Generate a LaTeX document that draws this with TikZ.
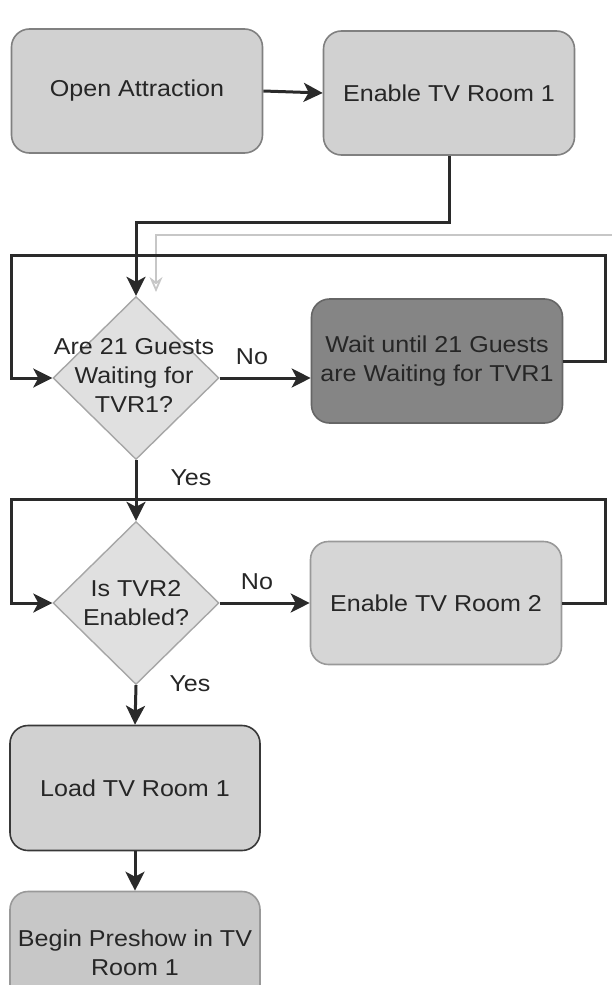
\documentclass[tikz,border=0pt]{standalone}
\usepackage{fontspec}
\setmainfont{Liberation Sans}[FakeStretch=1.09]
\usetikzlibrary{shapes.geometric,arrows.meta,calc}
\definecolor{linec}{HTML}{2A2A2A}
\begin{document}
\begin{tikzpicture}[x=1pt,y=-1pt,
  font=\fontsize{23}{29}\selectfont,
  every node/.style={text=black!85},
  box/.style={rectangle, rounded corners=18pt, draw=black!50, line width=1.6pt,
    fill=black!18, minimum width=251pt, minimum height=124pt, inner sep=0pt, align=center},
  dia/.style={diamond, draw=black!35, line width=1.4pt, fill=black!12,
    minimum width=166pt, minimum height=163pt, inner sep=0pt},
  arr/.style={draw=linec, line width=3pt, -{Stealth[length=19pt,width=19pt,inset=5pt]}},
  lab/.style={inner sep=0pt}
]
\useasboundingbox (0,0) rectangle (612,985);
\clip (0,0) rectangle (612,985);

% nodes
\node[box] (open) at (137,91) {Open Attraction};
\node[box] (en1) at (449,93) {Enable TV Room 1};
\node[dia] (d1) at (136,378) {};
\node[align=center, inner sep=0pt] (d1t) at (134,375) {Are 21 Guests\\Waiting for\\TVR1?};
\node[box, fill=black!48, draw=black!60, minimum height=124pt] (wait) at (437,361) {Wait until 21 Guests\\are Waiting for TVR1};
\node[dia] (d2) at (136,603) {};
\node[align=center, inner sep=0pt] (d2t) at (136,603) {Is TVR2\\Enabled?};
\node[box, fill=black!16, draw=black!40, minimum height=123pt] (en2) at (436,603) {Enable TV Room 2};
\node[box, fill=black!18, draw=black!78, minimum width=250pt, minimum height=125pt] (load) at (135,788) {Load TV Room 1};
\node[box, fill=black!22, draw=black!40, minimum width=250pt, minimum height=123pt] (begin) at (135,953) {Begin Preshow in TV\\Room 1};

% labels
\node[lab] (no1) at (252,357) {No};
\node[lab] (yes1) at (191,478) {Yes};
\node[lab] (no2) at (257,582) {No};
\node[lab] (yes2) at (190,684) {Yes};

% loop corner coordinates
\coordinate (r1) at (605,255);
\coordinate (l1) at (11,255);
\coordinate (r2) at (605,499);
\coordinate (l2) at (11,499);

% faint gray line
\coordinate (gs) at (615,235);
\coordinate (ge) at (156,292);
\draw[draw=black!22, line width=1.8pt, -{Stealth[open,length=15pt,width=13pt]}] (gs) -| (ge);

% connectors
\draw[arr] (open.east) -- (en1.west);
\draw[arr] (en1.south) -- ++(0,67) -| (d1.north);
\draw[arr] (wait.east) -| (r1) -- (l1) |- (d1.west);
\draw[arr] (d1.east) -- (d1.east -| wait.west);
\draw[arr] (d1.south) -- (d2.north);
\draw[arr] (en2.east) -| (r2) -- (l2) |- (d2.west);
\draw[arr] (d2.east) -- (en2.west);
\draw[arr] (d2.south) -- (load.north);
\draw[arr] (load.south) -- (begin.north);
\end{tikzpicture}
\end{document}
